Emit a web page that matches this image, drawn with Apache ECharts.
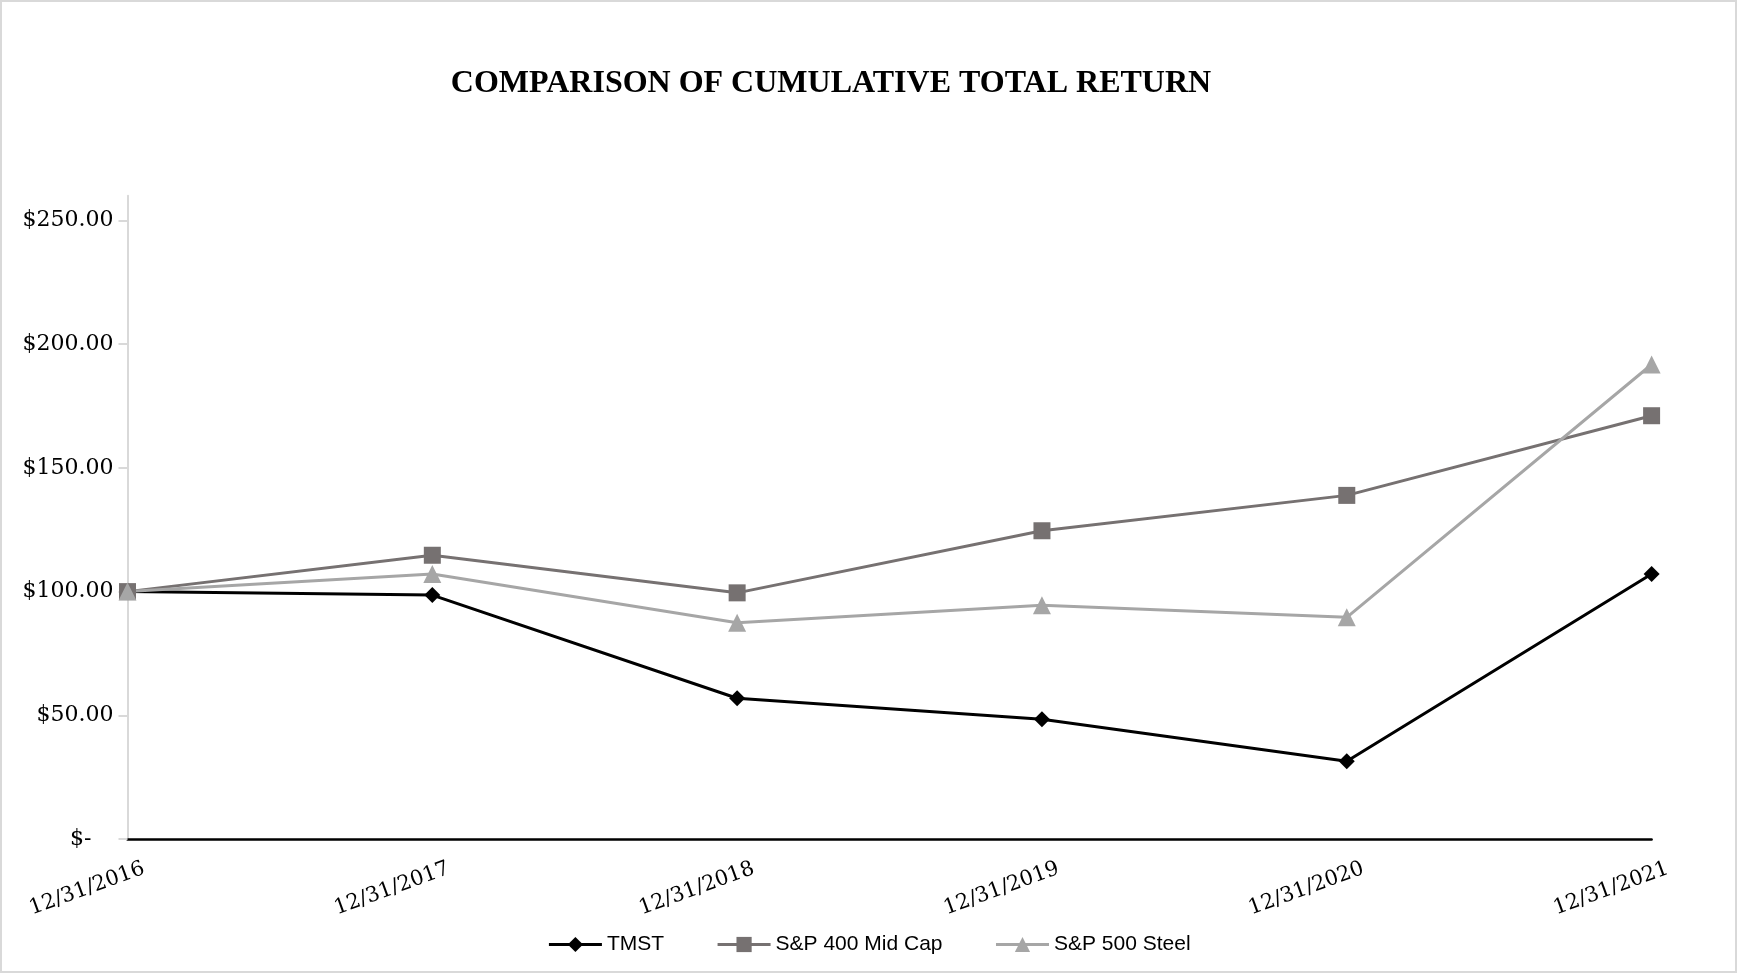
<!DOCTYPE html>
<html>
<head>
<meta charset="utf-8">
<script src="https://cdn.jsdelivr.net/npm/echarts@6/dist/echarts.min.js"></script>
<style>
html,body{margin:0;padding:0;background:#fff;}
#c{width:1738px;height:974px;}
</style>
</head>
<body>
<div id="c"></div>
<script>
const categories = ['12/31/2016','12/31/2017','12/31/2018','12/31/2019','12/31/2020','12/31/2021'];
const tmst = [100.00, 98.6, 56.9, 48.4, 31.4, 107.1];
const midCap = [100.00, 114.7, 99.5, 124.6, 138.9, 171.1];
const steel = [100.00, 107.1, 87.4, 94.5, 89.6, 191.8];
const yTicks = [0, 50, 100, 150, 200, 250];

const chart = echarts.init(document.getElementById('c'));
const serif = 'DejaVu Serif';
chart.setOption({
  animation: false,
  backgroundColor: '#fff',
  graphic: [{
    type: 'rect', shape: {x: 1, y: 1, width: 1735, height: 971},
    style: {fill: 'none', stroke: '#d9d9d9', lineWidth: 2}, silent: true
  }],
  title: {
    text: 'COMPARISON OF CUMULATIVE TOTAL RETURN',
    left: 826, top: 63, textAlign: 'center',
    textStyle: {fontFamily: 'Liberation Serif', fontWeight: 'bold', fontSize: 32, color: '#000'}
  },
  legend: {
    left: 'center', top: 929,
    itemWidth: 53, itemHeight: 19, itemGap: 52,
    lineStyle: {width: 3},
    textStyle: {fontFamily: 'Liberation Sans', fontSize: 21, color: '#000'},
    data: ['TMST', 'S&P 400 Mid Cap', 'S&P 500 Steel']
  },
  grid: {left: 127.5, right: 86.4, top: 195.8, bottom: 135, containLabel: false},
  xAxis: {
    type: 'category', data: categories, boundaryGap: false,
    axisLine: {lineStyle: {color: '#000', width: 2.5}},
    axisTick: {show: false},
    axisLabel: {
      rotate: 20, margin: 35, align: 'center', interval: 0,
      formatter: v => '{t|' + v + '}{s|}',
      rich: {
        t: {fontFamily: serif, fontSize: 21, color: '#000'},
        s: {width: 86}
      }
    },
    splitLine: {show: false}
  },
  yAxis: {
    type: 'value', min: 0, max: 260,
    axisLine: {show: true, lineStyle: {color: '#d9d9d9', width: 2}},
    axisTick: {show: true, length: 9, lineStyle: {color: '#d9d9d9', width: 2}, customValues: yTicks},
    axisLabel: {
      margin: 14, customValues: yTicks,
      fontFamily: serif, fontSize: 22, color: '#000',
      formatter: v => v === 0 ? '{z|$-}' : '$' + v.toFixed(2),
      rich: {z: {fontFamily: serif, fontSize: 22, color: '#000', padding: [0, 22, 0, 0]}}
    },
    splitLine: {show: false}
  },
  series: [
    {
      name: 'TMST', type: 'line', data: tmst,
      symbol: 'diamond', symbolSize: 16,
      lineStyle: {color: '#000', width: 3},
      itemStyle: {color: '#000'}
    },
    {
      name: 'S&P 400 Mid Cap', type: 'line', data: midCap,
      symbol: 'rect', symbolSize: 17,
      lineStyle: {color: '#767171', width: 3},
      itemStyle: {color: '#767171'}
    },
    {
      name: 'S&P 500 Steel', type: 'line', data: steel,
      symbol: 'triangle', symbolSize: 18,
      lineStyle: {color: '#a6a6a6', width: 3},
      itemStyle: {color: '#a6a6a6'}
    }
  ]
});
</script>
</body>
</html>
